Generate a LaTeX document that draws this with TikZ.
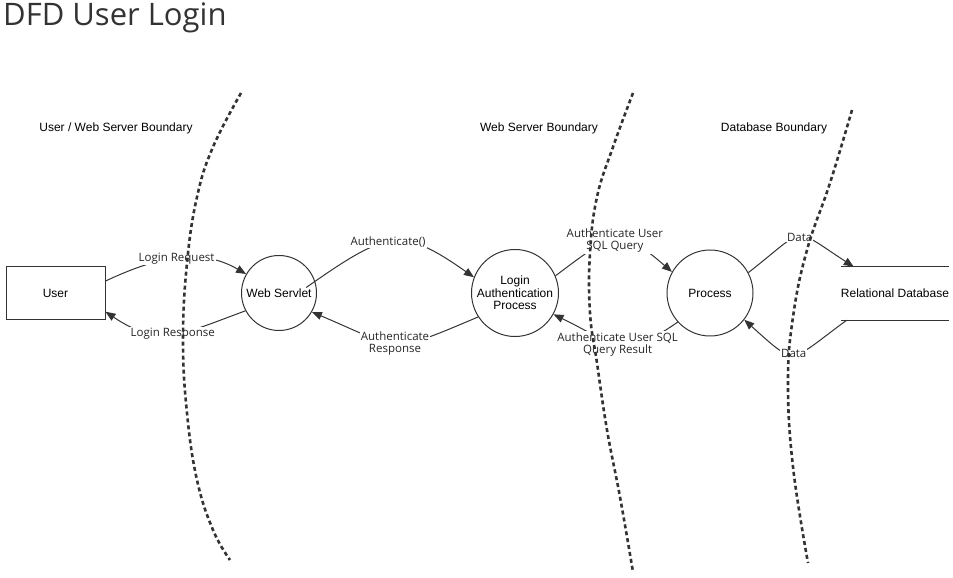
\documentclass[tikz,border=0pt]{standalone}
\usepackage{fontspec}
\setmainfont{Liberation Sans}
\newfontfamily\flowfont{Open Sans}
\usetikzlibrary{arrows.meta}
\pgfdeclarelayer{edgelayer}
\pgfdeclarelayer{nodelayer}
\pgfsetlayers{edgelayer,nodelayer,main}
\definecolor{ink}{HTML}{333333}
\tikzset{font=\fontsize{12}{12.5}\selectfont}
\tikzstyle{none}=[inner sep=0pt]
\tikzstyle{title}=[inner sep=0pt,anchor=base west,text=ink,font=\flowfont\fontsize{31}{32}\selectfont]
\tikzstyle{entity}=[rectangle,draw=ink,line width=1pt,minimum width=99pt,minimum height=53pt]
\tikzstyle{proc}=[circle,draw=ink,line width=1pt,align=center,inner sep=0pt]
\tikzstyle{store}=[inner sep=0pt,minimum width=106pt,minimum height=53pt]
\tikzstyle{storeline}=[draw=ink,line width=1pt]
\tikzstyle{flow}=[draw=ink,line width=1pt,-{Triangle[length=10pt,width=8pt]}]
\tikzstyle{flowlabel}=[fill=white,inner sep=1pt,align=center,text=black!85,font=\flowfont\fontsize{11.5}{12}\selectfont]
\tikzstyle{boundary}=[draw=ink,line width=2.6pt,dash pattern=on 4pt off 3pt]

\begin{document}
\begin{tikzpicture}[x=1pt,y=1pt]
	\useasboundingbox (0,0) rectangle (953,578);
	\begin{pgfonlayer}{nodelayer}
		\node [style=title] (t) at (3, 552) {DFD User Login};
		\node [style=entity] (0) at (55.5, 284.5) {User};
		\node [style=proc, minimum size=75pt] (1) at (279, 285) {Web Servlet};
		\node [style=proc, minimum size=87pt] (2) at (515, 285) {Login\\Authentication\\Process};
		\node [style=proc, minimum size=86pt] (3) at (710, 285) {Process};
		\node [style=store] (4) at (895, 284.5) {Relational Database};
		\node [style=none] (5) at (116, 450) {User / Web Server Boundary};
		\node [style=none] (6) at (539, 450) {Web Server Boundary};
		\node [style=none] (7) at (774, 450) {Database Boundary};
	\end{pgfonlayer}
	\begin{pgfonlayer}{edgelayer}
		\draw [style=storeline] (4.north west) to (4.north east);
		\draw [style=storeline] (4.south west) to (4.south east);
		\draw [style=flow, out=25, in=150, looseness=1.00] (0.14) to node[style=flowlabel] {Login Request} (1.150);
		\draw [style=flow, out=200, in=326, looseness=1.20] (1.208) to node[style=flowlabel] {Login Response} (0.340);
		\draw [style=flow, out=35, in=145, looseness=1.43, shorten <=-11pt] (1.18) to node[style=flowlabel, pos=0.45] {Authenticate()} (2.159);
		\draw [style=flow, out=203, in=337, looseness=1.50] (2.213) to node[style=flowlabel] {Authenticate\\Response} (1.330);
		\draw [style=flow, out=37, in=139, looseness=1.53] (2.23) to node[style=flowlabel] {Authenticate User\\SQL Query} (3.151);
		\draw [style=flow, out=215, in=334, looseness=1.40] (3.222) to node[style=flowlabel] {Authenticate User SQL\\Query Result} (2.331);
		\draw [style=flow, out=38, in=147, looseness=1.82] (3.28) to node[style=flowlabel] {Data} ([xshift=13pt]4.north west);
		\draw [style=flow, out=216, in=318, looseness=1.79] ([xshift=6pt]4.south west) to node[style=flowlabel] {Data} (3.322);
	\end{pgfonlayer}
	% trust boundaries
	\draw [style=boundary] plot [smooth, tension=0.7] coordinates {(241,485) (213,431) (197,381) (187,315) (183,238) (187,165) (197,98) (213,48) (230,18)};
	\draw [style=boundary] plot [smooth, tension=0.7] coordinates {(633,485) (613,431) (597,381) (590,325) (590,265) (597,215) (607,148) (620,81) (633,6)};
	\draw [style=boundary] plot [smooth, tension=0.7] coordinates {(852,468) (830,395) (807,328) (793,261) (788,195) (793,111) (808,15)};
\end{tikzpicture}
\end{document}
